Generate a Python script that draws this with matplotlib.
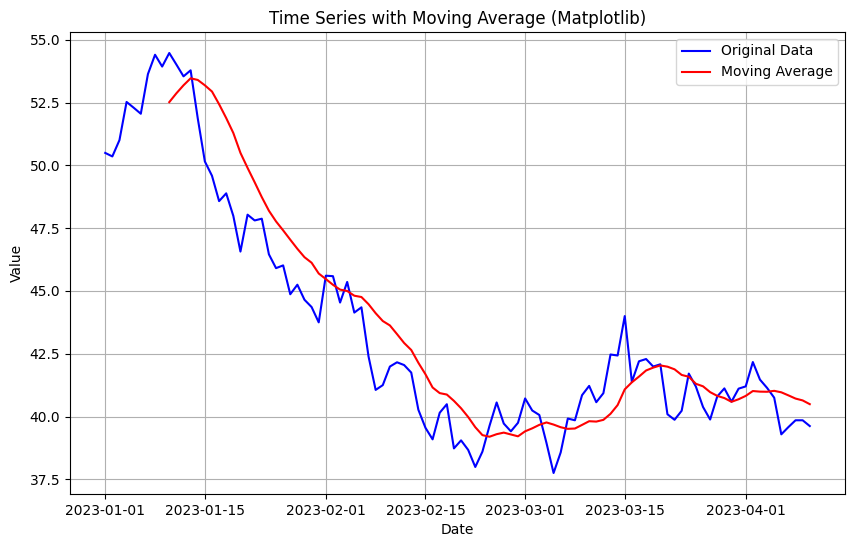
import matplotlib
matplotlib.use("Agg")
import matplotlib.pyplot as plt
import pandas as pd
import numpy as np

start_date = "2023-01-01"
n_days = 100
values = [
    50.50, 50.36, 51.01, 52.53, 52.30, 52.06, 53.64, 54.41, 53.94, 54.48,
    54.02, 53.55, 53.79, 51.88, 50.16, 49.59, 48.58, 48.89, 47.99, 46.57,
    48.04, 47.81, 47.88, 46.46, 45.91, 46.02, 44.87, 45.25, 44.65, 44.36,
    43.75, 45.61, 45.59, 44.54, 45.36, 44.14, 44.35, 42.39, 41.06, 41.25,
    41.99, 42.16, 42.05, 41.75, 40.27, 39.55, 39.09, 40.15, 40.49, 38.73,
    39.05, 38.67, 37.99, 38.60, 39.63, 40.56, 39.72, 39.41, 39.75, 40.72,
    40.24, 40.06, 38.95, 37.75, 38.57, 39.92, 39.85, 40.85, 41.22, 40.57,
    40.93, 42.47, 42.43, 44.00, 41.38, 42.20, 42.29, 41.99, 42.08, 40.09,
    39.87, 40.23, 41.71, 41.19, 40.38, 39.88, 40.80, 41.12, 40.59, 41.11,
    41.20, 42.17, 41.47, 41.14, 40.75, 39.29, 39.58, 39.85, 39.85, 39.62,
]
window = 10

dates = pd.date_range(start_date, periods=n_days)
series = pd.Series(values, index=dates)
moving_avg = series.rolling(window=window).mean()

fig = plt.figure(figsize=(8.54, 5.47), dpi=100)
ax = fig.add_axes([70/854, 53/547, 775/854, 462/547])
ax.plot(series.index, series.values, color="blue", label="Original Data")
ax.plot(moving_avg.index, moving_avg.values, color="red", label="Moving Average")
ax.set_title("Time Series with Moving Average (Matplotlib)")
ax.set_xlabel("Date")
ax.set_ylabel("Value")
ax.legend(loc="upper right")
ax.grid(True)
fig.savefig("out.png", dpi=100)
